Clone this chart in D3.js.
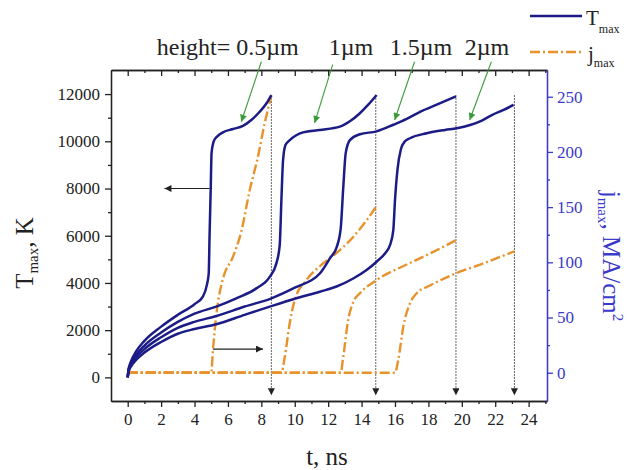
<!DOCTYPE html>
<html><head><meta charset="utf-8">
<script src="https://cdn.jsdelivr.net/npm/d3@7"></script>
<style>body{margin:0;background:#fff}svg{display:block}text{font-family:"Liberation Serif","Times New Roman",serif}</style>
</head><body>
<svg id="c" width="638" height="470"></svg>
<script>
// ---- data ----
const heights = ["height= 0.5\u00b5m", "1\u00b5m", "1.5\u00b5m", "2\u00b5m"];
const tA = [0,0.05,0.1,0.2,0.5,1,2,3,4,4.5,4.75,4.85,4.9,4.97,5.02,5.15,5.35,5.7,6.3,6.9,7.4,7.9,8.3,8.6];
const TA = [0,350,490,690,1100,1550,2150,2650,3100,3420,3950,4400,6000,8000,9500,10000,10200,10380,10520,10650,10900,11250,11600,11960];
const tB = [0,0.05,0.1,0.2,0.5,1,2,3,4,5.3,6.5,7.7,8.5,8.9,9.1,9.2,9.3,9.45,9.7,10.5,11.5,12.7,13.3,13.9,14.4,14.9];
const TB = [0,300,427,600,950,1350,1900,2350,2700,3000,3350,3770,4260,4830,5600,7500,9200,9850,10050,10380,10480,10620,10850,11190,11550,11960];
const tC = [0,0.05,0.1,0.2,0.5,1,2,3,4,5.3,7,8.6,10,11.5,12.1,12.5,12.75,12.9,13.05,13.3,13.9,14.9,15.9,16.7,17.5,18.5,19.65];
const TC = [0,270,380,540,850,1200,1700,2100,2350,2600,3000,3350,3800,4400,5040,5500,6300,8000,9500,10050,10300,10420,10700,10950,11250,11550,11900];
const tD = [0,0.05,0.1,0.2,0.5,1,2,3,4,5.3,7,8.6,10,11.5,12.5,13.5,14.3,14.9,15.4,15.7,15.9,16.0,16.15,16.35,16.6,16.9,17.9,19.0,19.7,20.5,21.2,21.8,22.5,23.1];
const TD = [0,235,330,470,740,1050,1500,1850,2050,2250,2650,3020,3330,3630,3850,4190,4550,4900,5250,5600,6240,7500,8800,9650,10000,10130,10340,10480,10550,10690,10880,11110,11330,11540];
const tjA = [0,5.0,5.1,5.35,5.7,6.3,6.8,7.3,7.8,8.2,8.6];
const jA  = [0,0,20,58,85,105,128,165,196,226,251];
const tjB = [0,9.2,9.4,9.7,10.0,10.7,11.7,12.7,13.5,14.2,14.85];
const jB  = [0,0,14,45,66,84,99,111,123,136,150];
const tjC = [0,12.75,12.9,13.2,13.5,13.9,14.9,16.7,18.1,19.65];
const jC  = [0,0,14,48,64,72,84,98,108,120];
const tjD = [0,16.0,16.2,16.5,16.9,17.3,18.1,19.65,21.1,23.15];
const jD  = [0,0,12,42,63,72,79,90,98,110];
const endTimes = [8.6,14.85,19.65,23.15];
const xTicks = [0,2,4,6,8,10,12,14,16,18,20,22,24];
const yTicks = [0,2000,4000,6000,8000,10000,12000];
const jTicks = [0,50,100,150,200,250];
// annotation anchors in data units [t0,T0,t1,T1]
const greenArrows = [[8.0,13370,6.8,10830],[12.27,13250,11.19,10780],[17.17,13370,15.98,10900],[21.77,13370,20.47,10900]];
const labelPos = [[1.74,13650],[12.03,13650],[15.68,13650],[20.17,13650]];
const blackArrows = [[4.9,8000,2.2,8000],[5.1,1200,8.1,1200]];

// ---- layout ----
const W=638,H=470, L=111,R=547,Tp=70,B=401;
const svg=d3.select("#c");
const x=d3.scaleLinear().domain([-1,25.1]).range([L,R]);
const y=d3.scaleLinear().domain([-1000,13020]).range([B,Tp]);
const yj=d3.scaleLinear().domain([-25.6,274.2]).range([B,Tp]);
const navy="#1c1c86", orange="#e8922c", blue="#3a3acb", green="#3b9b3b", ink="#222";

const defs=svg.append("defs");
function marker(id,col,w,h){
  defs.append("marker").attr("id",id).attr("viewBox","0 0 10 10").attr("refX",10).attr("refY",5)
   .attr("markerWidth",w).attr("markerHeight",h).attr("markerUnits","userSpaceOnUse").attr("orient","auto")
   .append("path").attr("d","M0,0L10,5L0,10Z").attr("fill",col);
}
marker("ag",green,11,7); marker("ak",ink,10,7); marker("ad",ink,8,7);

// axes
const rng=(a,b,s)=>d3.range(a,b+1e-9,s);
const fs="17px";
function styleAx(g,col){g.select(".domain").attr("stroke",col).attr("stroke-width",1.3);g.selectAll(".tick line").attr("stroke",col).attr("stroke-width",1.3);g.selectAll("text").attr("fill",col).style("font-size",fs).style("font-family","Liberation Serif");}
let g;
g=svg.append("g").attr("transform",`translate(0,${B})`).call(d3.axisBottom(x).tickValues(xTicks).tickSize(6).tickPadding(6).tickSizeOuter(0));styleAx(g,ink);
g=svg.append("g").attr("transform",`translate(0,${B})`).call(d3.axisBottom(x).tickValues(rng(1,23,2).concat([25])).tickSize(3).tickFormat("").tickSizeOuter(0));styleAx(g,ink);
g=svg.append("g").attr("transform",`translate(0,${Tp})`).call(d3.axisTop(x).tickValues(xTicks).tickSize(-6).tickFormat("").tickSizeOuter(0));styleAx(g,ink);
g=svg.append("g").attr("transform",`translate(0,${Tp})`).call(d3.axisTop(x).tickValues(rng(1,25,2)).tickSize(-3).tickFormat("").tickSizeOuter(0));styleAx(g,ink);
g=svg.append("g").attr("transform",`translate(${L},0)`).call(d3.axisLeft(y).tickValues(yTicks).tickSize(6).tickPadding(5).tickSizeOuter(0).tickFormat(d3.format("d")));styleAx(g,ink);
g=svg.append("g").attr("transform",`translate(${L},0)`).call(d3.axisLeft(y).tickValues(rng(1000,11000,2000)).tickSize(3).tickFormat("").tickSizeOuter(0));styleAx(g,ink);
g=svg.append("g").attr("transform",`translate(${R},0)`).call(d3.axisRight(yj).tickValues(jTicks).tickSize(6).tickPadding(4).tickSizeOuter(0));styleAx(g,blue);
g=svg.append("g").attr("transform",`translate(${R},0)`).call(d3.axisRight(yj).tickValues(rng(25,225,50)).tickSize(3).tickFormat("").tickSizeOuter(0));styleAx(g,blue);

// axis titles
function sub(t,txt,size,dy){t.append("tspan").text(txt).style("font-size",size).attr("dy",dy);}
let t=svg.append("text").attr("transform","translate(33,253) rotate(-90)").attr("text-anchor","middle").style("font-size","25px").attr("fill",ink);
t.append("tspan").text("T"); sub(t,"max","15px","5"); t.append("tspan").text(", K").attr("dy","-5");
t=svg.append("text").attr("transform","translate(603,256) rotate(90)").attr("text-anchor","middle").style("font-size","25px").attr("fill",blue);
t.append("tspan").text("j"); sub(t,"max","15px","5"); t.append("tspan").text(", MA/cm").attr("dy","-5"); sub(t,"2","15px","-10");
svg.append("text").attr("x",327).attr("y",465).attr("text-anchor","middle").style("font-size","25px").attr("fill",ink).text("t, ns");

// dotted verticals
endTimes.forEach(e=>{
  svg.append("line").attr("x1",x(e)).attr("x2",x(e)).attr("y1",y(11950)).attr("y2",y(-760))
   .attr("stroke","#333").attr("stroke-width",1).attr("stroke-dasharray","1.5,1.5").attr("marker-end","url(#ad)");
});

// curves
const lineT=d3.line().x(d=>x(d[0])).y(d=>y(d[1])).curve(d3.curveMonotoneX);
const lineJ=d3.line().x(d=>x(d[0])).y(d=>yj(d[1])).curve(d3.curveMonotoneX);
[[tjA,jA],[tjB,jB],[tjC,jC],[tjD,jD]].forEach(([a,b])=>{
  svg.append("path").datum(a.map((v,i)=>[v,b[i]])).attr("d",lineJ).attr("fill","none").attr("stroke",orange).attr("stroke-width",2.4).attr("stroke-dasharray","10,3,2,3");
});
[[tA,TA],[tB,TB],[tC,TC],[tD,TD]].forEach(([a,b])=>{
  svg.append("path").datum(a.map((v,i)=>[v,b[i]])).attr("d",lineT).attr("fill","none").attr("stroke",navy).attr("stroke-width",2.5);
});

// annotations
heights.forEach((h,i)=>{
  svg.append("text").attr("x",x(labelPos[i][0])).attr("y",y(labelPos[i][1])).style("font-size","24px").attr("fill",ink).text(h);
  const a=greenArrows[i];
  svg.append("line").attr("x1",x(a[0])).attr("y1",y(a[1])).attr("x2",x(a[2])).attr("y2",y(a[3])).attr("stroke",green).attr("stroke-width",1.1).attr("marker-end","url(#ag)");
});
blackArrows.forEach(a=>{
  svg.append("line").attr("x1",x(a[0])).attr("y1",y(a[1])).attr("x2",x(a[2])).attr("y2",y(a[3])).attr("stroke",ink).attr("stroke-width",1.2).attr("marker-end","url(#ak)");
});

// legend
const lg=svg.append("g");
lg.append("line").attr("x1",530).attr("x2",582).attr("y1",16).attr("y2",16).attr("stroke",navy).attr("stroke-width",2.5);
lg.append("line").attr("x1",530).attr("x2",582).attr("y1",52).attr("y2",52).attr("stroke",orange).attr("stroke-width",2.4).attr("stroke-dasharray","10,3,2,3");
t=lg.append("text").attr("x",586).attr("y",25).style("font-size","21px").attr("fill",ink); t.append("tspan").text("T"); sub(t,"max","12px","8");
t=lg.append("text").attr("x",588).attr("y",61).style("font-size","21px").attr("fill",ink); t.append("tspan").text("j"); sub(t,"max","12px","6");
</script>
</body></html>
